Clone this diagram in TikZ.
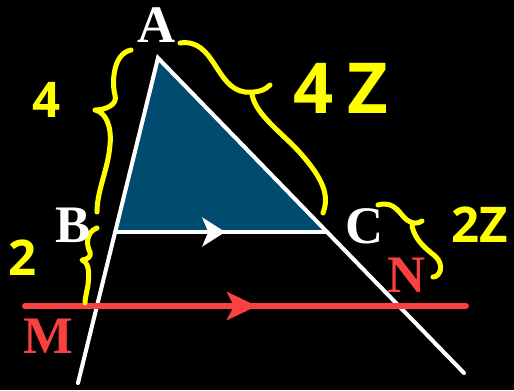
\documentclass[tikz,border=0pt]{standalone}
\usepackage{fontspec}
\setmainfont{Liberation Serif}
\newfontfamily\manoalzada{Open Sans}
\usetikzlibrary{arrows.meta,decorations.markings}
\definecolor{azultri}{RGB}{0,76,112}
\definecolor{rojo}{RGB}{250,64,64}
\definecolor{amarillo}{RGB}{255,255,0}
\begin{document}
\begin{tikzpicture}[x=0.02cm, y=-0.02cm,
        lado/.style={draw=white, line width=2.3pt, line cap=round, line join=miter},
        paralela/.style={draw=rojo, line width=3.4pt, line cap=round},
        llave/.style={draw=amarillo, line width=2.85pt, line cap=round, line join=round},
        flechablanca/.style={postaction=decorate, decoration={markings,
        mark=at position 0.52 with {\arrow[white]{Stealth[length=0.46cm, width=0.58cm, inset=0.12cm]}}}},
        flecharoja/.style={postaction=decorate, decoration={markings,
        mark=at position 0.526 with {\arrow[rojo]{Stealth[length=0.6cm, width=0.56cm, inset=0.14cm]}}}},
        vertice/.style={text=white, inner sep=0pt, font=\fontsize{30}{30}\selectfont\bfseries},
        punto/.style={vertice, text=rojo},
        medida/.style={text=amarillo, inner sep=0pt, font=\manoalzada\bfseries\fontsize{28}{28}\selectfont}
    ]
        \fill[black] (0,0) rectangle (514,390);
        \coordinate (A) at (158,58);
        \coordinate (B) at (115,232);
        \coordinate (C) at (327,232);
        \coordinate (finIzq) at (78,383);
        \coordinate (finDer) at (464,373);
        \coordinate (M) at (25,306);
        \coordinate (N) at (466,306);
        \fill[azultri] (A) -- (B) -- (C) -- cycle;
        \draw[lado] (finIzq) -- (A) -- (finDer);
        \draw[lado, flechablanca] (B) -- (C);
        \draw[paralela, flecharoja] (M) -- (N);
        \draw[llave] (131,50) .. controls (112,54) and (112,85) .. (115,95)
            .. controls (118,105) and (105,110) .. (95,110)
            .. controls (105,112) and (112,125) .. (110,145)
            .. controls (108,170) and (97,190) .. (97,212);
        \draw[llave] (97,228) .. controls (86,232) and (86,245) .. (90,252)
            .. controls (92,257) and (86,260) .. (82,260)
            .. controls (90,263) and (89,275) .. (88,285)
            .. controls (86,295) and (85,300) .. (85,303);
        \draw[llave] (180,43) .. controls (215,38) and (215,88) .. (245,92)
            .. controls (258,93) and (265,90) .. (270,85);
        \draw[llave] (252,94) .. controls (255,115) and (285,135) .. (302,155)
            .. controls (322,178) and (330,195) .. (323,213);
        \draw[llave] (378,205) .. controls (395,200) and (400,215) .. (407,220)
            .. controls (412,224) and (418,224) .. (422,221);
        \draw[llave] (412,226) .. controls (415,240) and (425,248) .. (435,256)
            .. controls (445,265) and (440,277) .. (433,277);
        \node[vertice] (etA) at (157,25) {A};
        \node[vertice] (etB) at (73,225) {B};
        \node[vertice] (etC) at (365,226) {C};
        \node[punto] (etM) at (48,336) {M};
        \node[punto] (etN) at (407,275) {N};
        \node[medida] (ladoAB) at (47,100) {4};
        \node[medida, font=\manoalzada\bfseries\fontsize{40}{40}\selectfont] (ladoAC) at (341,88) {4\hspace{0.2em}Z};
        \node[medida] (ladoBM) at (23,258) {2};
        \node[medida] (ladoCN) at (480,225) {2Z};
    \end{tikzpicture}
\end{document}
